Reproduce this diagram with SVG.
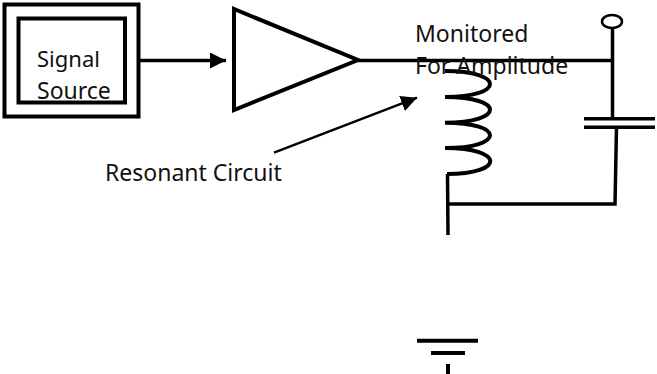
<svg xmlns="http://www.w3.org/2000/svg" width="657" height="374" viewBox="0 0 657 374">
<style>
.l{fill:none;stroke:#000;stroke-width:3.5}
.t{font-family:"Noto Sans","Open Sans","Liberation Sans",sans-serif;font-size:23px;fill:#111}
</style>
<defs>
<marker id="ah" markerUnits="userSpaceOnUse" markerWidth="18" markerHeight="18" refX="16" refY="8" orient="auto"><path d="M0 0L16 8L0 16Z" fill="#000"/></marker>
</defs>
<rect width="657" height="374" fill="#fff"/>
<g id="signal-source">
<rect class="l" style="stroke-width:4" x="4.5" y="4.5" width="134" height="112"/>
<rect class="l" style="stroke-width:4" x="18.5" y="18.500" width="106.500" height="84"/>
<text class="t" x="37" y="67" style="font-size:22px">Signal</text>
<text class="t" x="37" y="99">Source</text>
</g>
<g id="amplifier"><path class="l" style="stroke-width:4" d="M234 9V110L358 60Z"/></g>
<g id="inductor"><path class="l" style="stroke-width:4" d="M445 71C505 71 505 97 445 97C505 97 505 122.700 445 122.700C505 122.700 505 148 445 148C505 148 505 174 447 174"/></g>
<g id="capacitor">
<path class="l" d="M584 118.700H655M584 127.300H655"/>
</g>
<g id="output-terminal"><ellipse cx="612" cy="21.500" rx="10" ry="6.500" fill="#fff" stroke="#000" stroke-width="2.500"/></g>
<g id="ground">
<path class="l" style="stroke-width:4" d="M417 340.700H478M431 353H465M448 364V374"/>
</g>
<g id="connectors">
<path class="l" marker-end="url(#ah)" d="M140 60.500H226"/>
<path class="l" d="M358 60.500H613M612.500 28V118M616.500 127L615 204H447.500M447.500 174L448 235"/>
<path class="l" style="stroke-width:2.500" marker-end="url(#ah)" d="M274 152.700L417 97.700"/>
</g>
<g id="labels">
<text class="t" x="415" y="42">Monitored</text>
<text class="t" x="415" y="74">For Amplitude</text>
<text class="t" x="105" y="181">Resonant Circuit</text>
</g>
</svg>
